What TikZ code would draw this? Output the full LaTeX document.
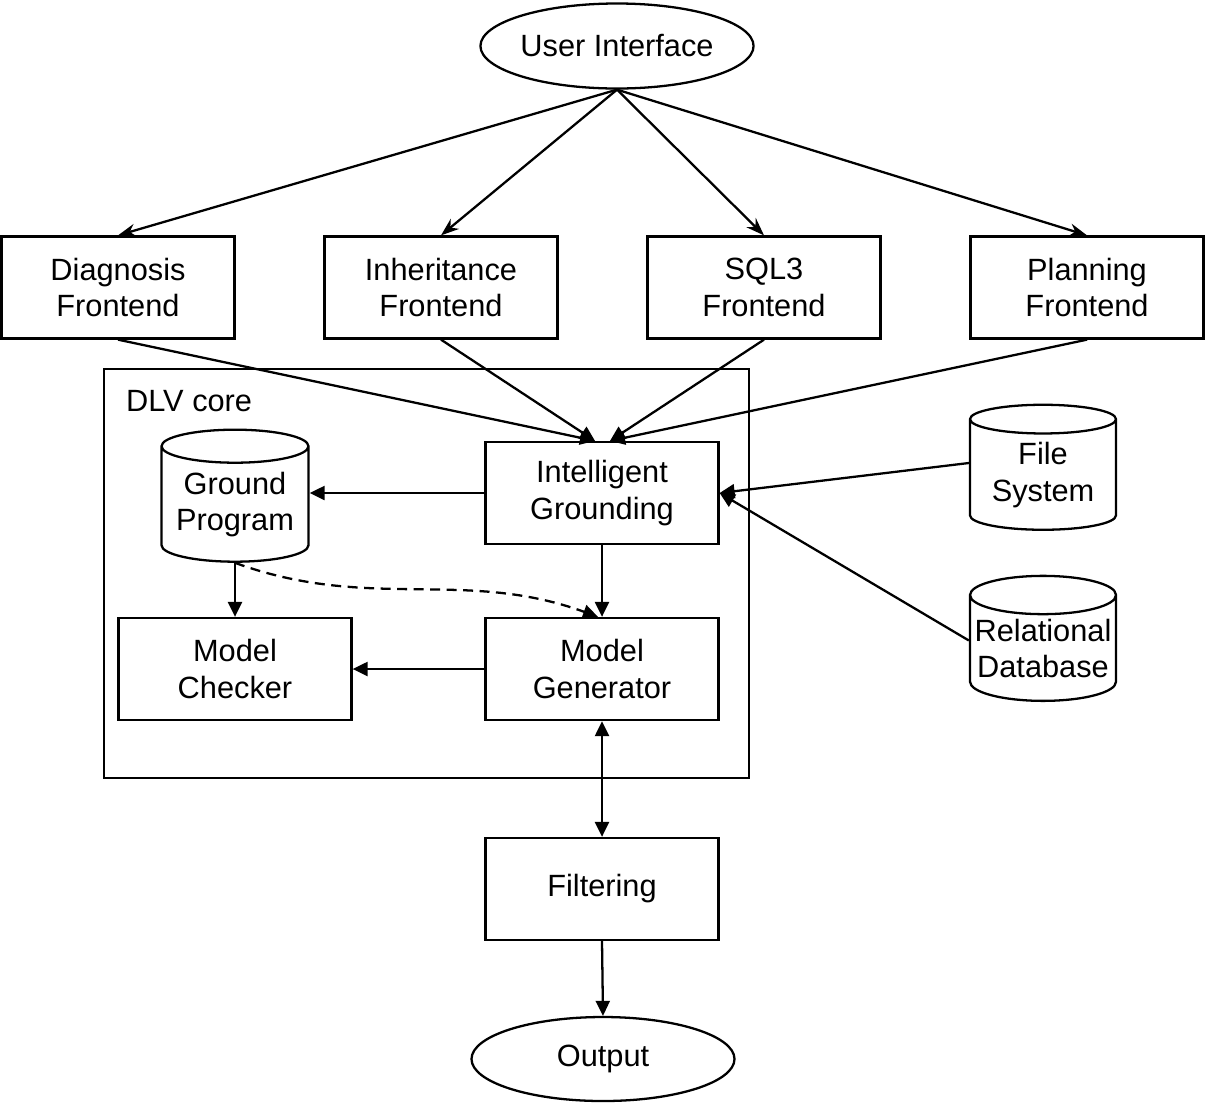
\documentclass[tikz,border=0pt]{standalone}
\usepackage{fontspec}
\setmainfont{Liberation Sans}
\usepackage{tikz}
\usetikzlibrary{shapes.geometric, arrows.meta, positioning, calc}

\begin{document}
\begin{tikzpicture}[
          every node/.style={font=\fontsize{17.5}{21}\selectfont, align=center},
          box/.style={rectangle, draw, line width=1.3pt, minimum width=4.66cm, minimum height=2.04cm, inner sep=0pt},
          drum/.style={cylinder, draw, line width=1.3pt, shape border rotate=90, aspect=0.28, minimum width=2.94cm, minimum height=2.64cm, inner sep=0pt},
          oval/.style={ellipse, draw, line width=1.3pt, minimum width=5.3cm, minimum height=1.7cm, inner sep=0pt},
          feed/.style={line width=1.3pt, -{Stealth[length=0.36cm, width=0.26cm]}},
          link/.style={line width=1.3pt, -{Triangle[length=0.3cm, width=0.28cm]}}
        ]
          \useasboundingbox (0,0) rectangle (24.14,-22.1);

          % Top level
          \node[oval] (ui) at (12.34, -0.92) {User Interface};
          \node[box] (diag) at (2.36, -5.75) {Diagnosis\\Frontend};
          \node[box] (inh) at (8.82, -5.75) {Inheritance\\Frontend};
          \node[box] (sql) at (15.28, -5.75) {SQL3\\Frontend};
          \node[box] (plan) at (21.74, -5.75) {Planning\\Frontend};

          \draw[feed] (ui.south) -- (diag.north);
          \draw[feed] (ui.south) -- (inh.north);
          \draw[feed] (ui.south) -- (sql.north);
          \draw[feed] (ui.south) -- (plan.north);

          % DLV core
          \draw[line width=1.3pt] (2.08, -7.38) rectangle (14.98, -15.56);
          \node[anchor=west] (core) at (2.4, -8.02) {DLV core};

          \node[box] (ig) at (12.04, -9.86) {Intelligent\\Grounding};
          \node[drum] (gp) at (4.70, -10.09) {Ground\\Program};
          \node[box] (mc) at (4.70, -13.38) {Model\\Checker};
          \node[box] (mg) at (12.04, -13.38) {Model\\Generator};

          \draw[link] (diag.south) -- ([xshift=-0.14cm]ig.north);
          \draw[link] (inh.south) -- ([xshift=-0.14cm]ig.north);
          \draw[link] (sql.south) -- ([xshift=0.16cm]ig.north);
          \draw[link] (plan.south) -- ([xshift=0.16cm]ig.north);

          \draw[link] (ig.west) -- (ig.west -| gp.east);
          \draw[link] (ig.south) -- (mg.north);
          \draw[link] (gp.south) -- (mc.north);
          \draw[link] (mg.west) -- (mc.east);
          \draw[link, dash pattern=on 0.2cm off 0.13cm] (gp.south) to[out=-20, in=160] ([xshift=-0.08cm]mg.north);

          % Data sources
          \node[drum, minimum width=2.92cm, minimum height=2.5cm] (fs) at (20.86, -9.50) {File\\System};
          \node[drum, minimum width=2.92cm, minimum height=2.5cm] (rdb) at (20.86, -12.97) {Relational\\Database};

          \draw[link] ([yshift=0.24cm]fs.west) -- (ig.east);
          \draw[link] ([yshift=0.16cm]rdb.west) -- (ig.east);

          % Output side
          \node[box] (filt) at (12.04, -17.78) {Filtering};
          \node[oval, minimum width=5.26cm, minimum height=1.68cm] (out) at (12.06, -21.18) {Output};

          \draw[link, {Triangle[length=0.3cm, width=0.28cm]}-{Triangle[length=0.3cm, width=0.28cm]}] (mg.south) -- (filt.north);
          \draw[link] (filt.south) -- (out.north);
        \end{tikzpicture}
\end{document}
